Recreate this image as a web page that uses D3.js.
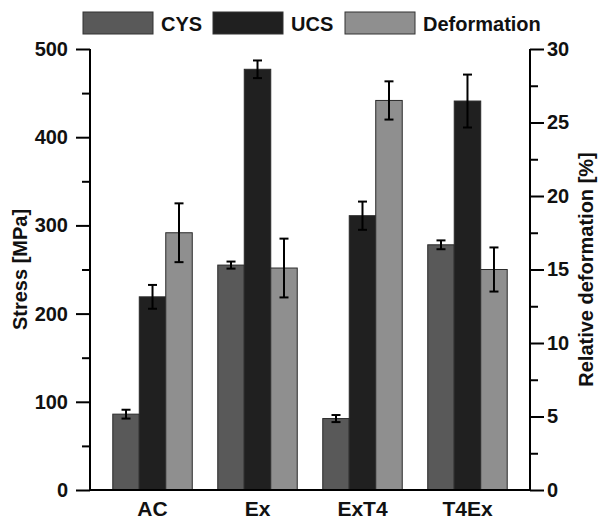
<!DOCTYPE html>
<html>
<head>
<meta charset="utf-8">
<script src="https://cdn.jsdelivr.net/npm/d3@7"></script>
<style>
  body { margin: 0; background: #fff; }
  text { font-family: "Liberation Sans", Arial, sans-serif; font-weight: bold; fill: #111; }
</style>
</head>
<body>
<div id="chart"></div>
<script>
// data
const samples   = ["AC", "Ex", "ExT4", "T4Ex"];
const cysVals   = [86, 255, 81, 278];
const cysErr    = [5, 4, 4, 5];
const ucsVals   = [219, 477, 311, 441];
const ucsErr    = [13.5, 10, 16, 30];
const defVals   = [17.5, 15.1, 26.5, 15.0];   // relative deformation, %
const defErr    = [2, 2, 1.3, 1.5];
const seriesNames = ["CYS", "UCS", "Deformation"];
const stressTicks = [0, 100, 200, 300, 400, 500];
const defTicks    = [0, 5, 10, 15, 20, 25, 30];

const colors = ["#595959", "#202020", "#8f8f8f"];

const w = 602, h = 521;
const margin = { top: 49, right: 72, bottom: 31, left: 90 };

const svg = d3.select("#chart").append("svg")
  .attr("width", w)
  .attr("height", h);

const x = d3.scaleBand()
  .domain(samples)
  .range([margin.left, w - margin.right])
  .paddingInner(0.243)
  .paddingOuter(0.217);

const xs = d3.scaleBand()
  .domain(seriesNames)
  .range([0, x.bandwidth()]);

const yL = d3.scaleLinear().domain([0, 500]).range([h - margin.bottom, margin.top]);
const yR = d3.scaleLinear().domain([0, 30]).range([h - margin.bottom, margin.top]);

// build rows per series, each knows its own scale
const rows = [];
samples.forEach((s, i) => {
  rows.push({ sample: s, series: "CYS", v: cysVals[i], e: cysErr[i], y: yL, c: colors[0] });
  rows.push({ sample: s, series: "UCS", v: ucsVals[i], e: ucsErr[i], y: yL, c: colors[1] });
  rows.push({ sample: s, series: "Deformation", v: defVals[i], e: defErr[i], y: yR, c: colors[2] });
});

// bars
svg.append("g").selectAll("rect")
  .data(rows)
  .enter().append("rect")
  .attr("x", d => x(d.sample) + xs(d.series))
  .attr("y", d => d.y(d.v))
  .attr("width", xs.bandwidth())
  .attr("height", d => d.y(0) - d.y(d.v))
  .attr("fill", d => d.c)
  .attr("stroke", "#2a2a2a")
  .attr("stroke-width", 1);

// error bars
const eb = svg.append("g").attr("stroke", "#000").attr("stroke-width", 2);
rows.forEach(d => {
  const cx = x(d.sample) + xs(d.series) + xs.bandwidth() / 2;
  const y1 = d.y(d.v + d.e), y2 = d.y(d.v - d.e);
  eb.append("line").attr("x1", cx).attr("x2", cx).attr("y1", y1).attr("y2", y2);
  eb.append("line").attr("x1", cx - 4.5).attr("x2", cx + 4.5).attr("y1", y1).attr("y2", y1);
  eb.append("line").attr("x1", cx - 4.5).attr("x2", cx + 4.5).attr("y1", y2).attr("y2", y2);
});

// left axis
const axL = svg.append("g")
  .attr("transform", `translate(${margin.left},0)`)
  .call(d3.axisLeft(yL).tickValues(stressTicks).tickSize(14).tickPadding(8));
svg.append("g")
  .attr("transform", `translate(${margin.left},0)`)
  .call(d3.axisLeft(yL).tickValues(d3.range(50, 500, 100)).tickSize(8).tickFormat(""))
  .select(".domain").remove();

// right axis
const axR = svg.append("g")
  .attr("transform", `translate(${w - margin.right},0)`)
  .call(d3.axisRight(yR).tickValues(defTicks).tickSize(14).tickPadding(3));
svg.append("g")
  .attr("transform", `translate(${w - margin.right},0)`)
  .call(d3.axisRight(yR).tickValues(d3.range(2.5, 30, 5)).tickSize(8).tickFormat(""))
  .select(".domain").remove();

// bottom axis, no ticks
const axB = svg.append("g")
  .attr("transform", `translate(0,${h - margin.bottom})`)
  .call(d3.axisBottom(x).tickSize(0).tickPadding(8).tickSizeOuter(0));

svg.selectAll(".domain").attr("stroke", "#000").attr("stroke-width", 2);
svg.selectAll(".tick line").attr("stroke", "#000").attr("stroke-width", 2);
svg.selectAll(".tick text")
  .style("font-family", '"Liberation Sans", Arial, sans-serif')
  .style("font-weight", "bold")
  .style("font-size", "20px")
  .attr("fill", "#111");
axB.selectAll(".tick text").style("font-size", "21px").attr("dy", "0.85em");
axL.select(".domain").attr("d", `M0,${margin.top}V${h - margin.bottom}`);
axR.select(".domain").attr("d", `M0,${margin.top}V${h - margin.bottom}`);
axB.select(".domain").attr("d", `M${margin.left},0H${w - margin.right}`);

// axis titles
svg.append("text")
  .attr("transform", `translate(27,${(margin.top + h - margin.bottom) / 2}) rotate(-90)`)
  .attr("text-anchor", "middle")
  .style("font-size", "20px")
  .text("Stress [MPa]");

svg.append("text")
  .attr("transform", `translate(593,${(margin.top + h - margin.bottom) / 2}) rotate(-90)`)
  .attr("text-anchor", "middle")
  .style("font-size", "20px")
  .text("Relative deformation [%]");

// legend
const legendX = [83, 213, 345];
const leg = svg.append("g").selectAll("g")
  .data(seriesNames)
  .enter().append("g")
  .attr("transform", (d, i) => `translate(${legendX[i]},12)`);
leg.append("rect")
  .attr("width", 70).attr("height", 22)
  .attr("fill", (d, i) => colors[i])
  .attr("stroke", "#333").attr("stroke-width", 1);
leg.append("text")
  .attr("x", 78).attr("y", 19)
  .style("font-size", "20px")
  .text(d => d);
</script>
</body>
</html>
